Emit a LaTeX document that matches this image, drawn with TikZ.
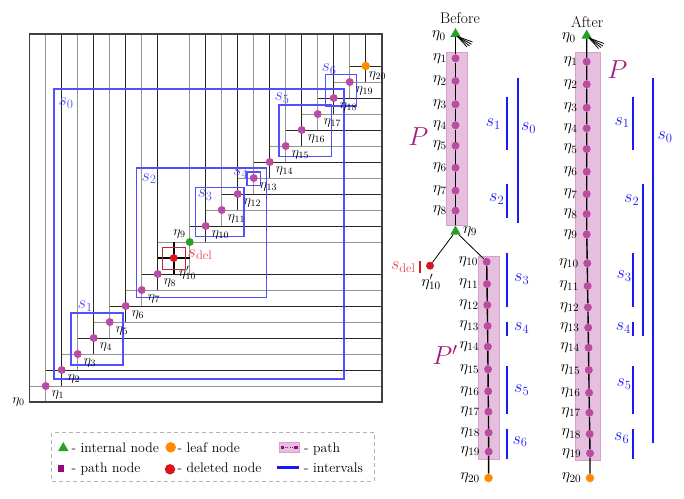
\IfFileExists{fix-cm.sty}{\RequirePackage{fix-cm}}{}
\documentclass[tikz,border=0pt]{standalone}
\usetikzlibrary{calc,shapes.geometric}
\definecolor{pdot}{RGB}{184,76,160}
\definecolor{pathfill}{RGB}{230,190,222}
\definecolor{pathdraw}{RGB}{215,160,205}
\definecolor{plabel}{RGB}{160,30,130}
\definecolor{psq}{RGB}{150,10,120}
\definecolor{ggreen}{RGB}{40,160,40}
\definecolor{lorange}{RGB}{255,140,0}
\definecolor{dred}{RGB}{220,20,30}
\definecolor{boxred}{RGB}{205,35,45}
\definecolor{sdelred}{RGB}{232,70,80}
\definecolor{iblue}{RGB}{25,25,245}
\definecolor{bblue}{RGB}{80,80,255}
\begin{document}
\begin{tikzpicture}[x=1pt,y=-1pt,
  pd/.style={circle,fill=pdot,inner sep=0pt,minimum size=8pt},
  gd/.style={circle,fill=ggreen,inner sep=0pt,minimum size=8pt},
  od/.style={circle,fill=lorange,inner sep=0pt,minimum size=8.5pt},
  rd/.style={circle,fill=dred,inner sep=0pt,minimum size=8pt},
  gtri/.style={regular polygon,regular polygon sides=3,fill=ggreen,inner sep=0pt,minimum size=12pt},
  lgray/.style={draw=black!42,line width=0.8pt},
  lblack/.style={draw=black!85,line width=0.8pt},
  ibox/.style={draw=bblue,line width=1.2pt},
  slab/.style={text=iblue,font=\fontsize{18}{20}\selectfont,inner sep=0pt},
  blab/.style={text=bblue,font=\fontsize{18}{20}\selectfont,inner sep=0pt},
  elab/.style={font=\fontsize{13.8}{15}\selectfont,inner sep=0pt},
  tlab/.style={font=\fontsize{16}{18}\selectfont,inner sep=0pt,anchor=east},
  ttl/.style={font=\fontsize{15.5}{17}\selectfont,inner sep=0pt},
  tline/.style={draw=black,line width=1.4pt},
  fanl/.style={draw=black,line width=0.8pt},
  ival/.style={draw=iblue,line width=2pt},
  pathrect/.style={fill=pathfill,draw=pathdraw,line width=0.8pt},
  plab/.style={text=plabel,font=\fontsize{26}{28}\selectfont,inner sep=0pt},
]
\useasboundingbox (0,0) rectangle (684,498);

% ---------------- left panel ----------------
\foreach \p in {0,...,21} \coordinate (c\p) at ({29.7+16*\p},{402-16*\p});
\coordinate (TR) at (382,34);
\foreach \p/\q/\col in {1/0/lgray,2/1/lblack,3/2/lgray,4/3/lblack,5/4/lgray,6/5/lblack,7/6/lgray,8/7/lblack,
  10/8/lgray,11/10/lblack,12/11/lgray,13/12/lblack,14/13/lgray,15/14/lblack,16/15/lgray,17/16/lblack,
  18/17/lgray,19/18/lblack,20/19/lgray,21/20/lblack}{
  \draw[\col] (c\p |- c\q) -- (c\p |- TR);
  \draw[\col] (c\q |- c\p) -- (TR |- c\p);
}
\draw[draw=black!75,line width=1.2pt] (c0) rectangle (TR);
% deleted node cross
\draw[draw=black,line width=2pt] (c8 |- c9) -- (c10 |- c9);
\draw[draw=black,line width=2pt] (c9 |- c10) -- (c9 |- c8);
% interval boxes
\draw[ibox] (54,89) rectangle (344,379);
\draw[ibox] (71,313) rectangle (123,365);
\draw[ibox] (136.3,168) rectangle (266.7,297.7);
\draw[ibox] (195.7,187.3) rectangle (244,236.7);
\draw[ibox] (247,172) rectangle (260.3,185.3);
\draw[ibox] (279,105) rectangle (331.7,156.7);
\draw[ibox] (325.3,74.3) rectangle (356.7,106);
\draw[draw=boxred,line width=1pt] (162.3,247) rectangle (185,269.3);
\node[blab] (ls0) at (66,103.3) {$s_0$};
\node[blab] (ls1) at (85.3,306) {$s_1$};
\node[blab] (ls2) at (149,178.7) {$s_2$};
\node[blab] (ls3) at (205,195) {$s_3$};
\node[blab] (ls4) at (240.5,173.3) {$s_4$};
\node[blab] (ls5) at (282,98.3) {$s_5$};
\node[blab] (ls6) at (329,69) {$s_6$};
\node[text=sdelred,font=\fontsize{18}{20}\selectfont,inner sep=0pt] (lsdel) at (200,254.5) {$s_{\mathrm{del}}$};
% dots
\foreach \n/\p in {1/1,2/2,3/3,4/4,5/5,6/6,7/7,8/8,10/11,11/12,12/13,13/14,14/15,15/16,16/17,17/18,18/19,19/20}{
  \node[pd] (L\n) at (c\p) {};
  \node[elab,anchor=west] (Ll\n) at ($(c\p)+(6,8.5)$) {$\eta_{\n}$};
}
\node[gd] (L9) at (c10) {};
\node[elab,anchor=east] (Ll9) at ($(c10)+(-4,-8)$) {$\eta_9$};
\node[od] (L20) at (c21) {};
\node[elab,anchor=west] (Ll20) at ($(c21)+(3,10)$) {$\eta_{20}$};
\node[rd] (Ld) at (c9) {};
\node[elab,anchor=west] (Lld) at ($(c9)+(5,15)$) {$\eta'_{10}$};
\node[elab,anchor=east] (Ll0) at ($(c0)+(-5,0)$) {$\eta_0$};

% ---------------- Before tree ----------------
\node[ttl] (tb) at (460,18) {Before};
\fill[pathrect] (446,52.3) rectangle (467.7,225.7);
\fill[pathrect] (478.7,256.7) rectangle (499.3,459.3);
\node[gtri] (B0) at (455.5,34) {};
\node[tlab] (Bl0) at (446,36) {$\eta_0$};
\foreach \n/\y in {1/58.3,2/81,3/104.3,4/125.3,5/145.7,6/167.7,7/190.7,8/210.7}{
  \node[pd] (B\n) at (455.5,\y) {};
  \node[tlab] (Bl\n) at ([xshift=-8.5pt]B\n.center) {$\eta_{\n}$};
}
\node[gtri] (B9) at (455.5,231.5) {};
\node[font=\fontsize{16}{18}\selectfont,inner sep=0pt,anchor=west] (Bl9) at (463,231.5) {$\eta_9$};
\foreach \n/\x/\y in {10/486.7/261.7,11/487/284,12/487.3/305,13/487.6/326,14/487.8/346.7,15/488/369.3,16/488.2/391.3,17/488.4/411.7,18/488.6/432.7,19/488.7/451.7}{
  \node[pd] (B\n) at (\x,\y) {};
  \node[tlab] (Bl\n) at ([xshift=-8.5pt]B\n.center) {$\eta_{\n}$};
}
\node[od] (B20) at (488.5,478) {};
\node[tlab] (Bl20) at ([xshift=-8.5pt]B20.center) {$\eta_{20}$};
\node[rd] (Bd) at (430,265.7) {};
\node[font=\fontsize{16}{18}\selectfont,inner sep=0pt] (Bld) at (431,282) {$\eta'_{10}$};
\node[text=sdelred,font=\fontsize{18}{20}\selectfont,inner sep=0pt] (Bsdel) at (403.3,267.3) {$s_{\mathrm{del}}$};
\draw[draw=dred,line width=2.5pt] (420,260.7) -- (420,273.3);
\draw[tline] (B0) -- (B1) -- (B2) -- (B3) -- (B4) -- (B5) -- (B6) -- (B7) -- (B8) -- (B9);
\draw[fanl] (B9) -- (Bd);
\draw[fanl] (B9) -- (B10);
\draw[tline] (B10) -- (B11) -- (B12) -- (B13) -- (B14) -- (B15) -- (B16) -- (B17) -- (B18) -- (B19) -- (B20);
\coordinate (bf0) at (457.5,36.5);
\coordinate (bf1) at (467,47);
\coordinate (bf2) at (469.5,46);
\coordinate (bf3) at (471.5,44.3);
\coordinate (bf4) at (472.5,42);
\foreach \k in {1,2,3,4} \draw[fanl] (bf0) -- (bf\k);
\node[plab] (BP) at (418.3,136.7) {$P$};
\node[plab] (BPp) at (445,355) {$P'$};
% intervals before
\draw[ival] (507.3,96.7) -- (507.3,150);   \node[slab] (bs1) at (493.3,124) {$s_1$};
\draw[ival] (517.7,78.3) -- (517.7,222.7); \node[slab] (bs0) at (528.5,128) {$s_0$};
\draw[ival] (507.3,184.3) -- (507.3,218.3); \node[slab] (bs2) at (496.7,199.3) {$s_2$};
\draw[ival] (507.3,253.3) -- (507.3,306.7); \node[slab] (bs3) at (521.7,279.3) {$s_3$};
\draw[ival] (507.3,321.7) -- (507.3,336);   \node[slab] (bs4) at (521.7,328.3) {$s_4$};
\draw[ival] (507.3,366) -- (507.3,414);     \node[slab] (bs5) at (521.7,390) {$s_5$};
\draw[ival] (507.3,429.3) -- (507.3,459.3); \node[slab] (bs6) at (520,441.7) {$s_6$};

% ---------------- After tree ----------------
\node[ttl] (ta) at (587.3,21.7) {After};
\fill[pathrect] (575.7,52.3) rectangle (600.7,460);
\node[gtri] (A0) at (586.7,35.5) {};
\node[tlab] (Al0) at (576,38) {$\eta_0$};
\foreach \n/\y in {1/61.7,2/84.3,3/107.7,4/128.3,5/149,6/171.7,7/194,8/214,9/234.3}{
  \node[pd] (A\n) at (586.7,\y) {};
  \node[tlab] (Al\n) at ([xshift=-9pt]A\n.center) {$\eta_{\n}$};
}
\foreach \n/\x/\y in {10/587.3/263.3,11/587.6/286,12/587.9/307.3,13/588.2/327.7,14/588.5/347.7,15/588.8/370,16/589.1/392.7,17/589.4/412.7,18/589.7/434,19/590/453.3}{
  \node[pd] (A\n) at (\x,\y) {};
  \node[tlab] (Al\n) at ([xshift=-8.5pt]A\n.center) {$\eta_{\n}$};
}
\node[od] (A20) at (590,478) {};
\node[tlab] (Al20) at ([xshift=-8.5pt]A20.center) {$\eta_{20}$};
\draw[tline] (A0) -- (A1) -- (A2) -- (A3) -- (A4) -- (A5) -- (A6) -- (A7) -- (A8) -- (A9) -- (A10) -- (A11) -- (A12) -- (A13) -- (A14) -- (A15) -- (A16) -- (A17) -- (A18) -- (A19) -- (A20);
\coordinate (af0) at (589,38);
\coordinate (af1) at (598.5,48.5);
\coordinate (af2) at (601,47.5);
\coordinate (af3) at (603,46);
\coordinate (af4) at (604,43.5);
\foreach \k in {1,2,3,4} \draw[fanl] (af0) -- (af\k);
\node[plab] (AP) at (617.3,70) {$P$};
% intervals after
\draw[ival] (632.7,96.7) -- (632.7,150);   \node[slab] (as1) at (622,122.7) {$s_1$};
\draw[ival] (653.3,78.3) -- (653.3,442.7); \node[slab] (as0) at (665,137.3) {$s_0$};
\draw[ival] (642.7,184.3) -- (642.7,336);  \node[slab] (as2) at (631.7,200) {$s_2$};
\draw[ival] (632.7,253.3) -- (632.7,306.7); \node[slab] (as3) at (624,276) {$s_3$};
\draw[ival] (632.7,321.7) -- (632.7,336);   \node[slab] (as4) at (623.3,328.3) {$s_4$};
\draw[ival] (632.7,366) -- (632.7,414);     \node[slab] (as5) at (624,384) {$s_5$};
\draw[ival] (632.7,429.3) -- (632.7,459.3); \node[slab] (as6) at (621.7,438.3) {$s_6$};

% ---------------- legend ----------------
\draw[draw=black!30,line width=0.8pt,dash pattern=on 4pt off 3pt] (51.7,432.7) rectangle (374.3,481);
\node[gtri] (lg1) at (63.3,448) {};
\node[elab,anchor=base west] (lt1) at (71.5,452.3) {- internal node};
\node[od,minimum size=10.5pt] (lg2) at (170.7,447.3) {};
\node[elab,anchor=base west] (lt2) at (177.5,452.3) {- leaf node};
\fill[pathrect] (279,442.7) rectangle (299.3,452.3);
\node[fill=psq,inner sep=0pt,minimum size=3.5pt] (lq1) at (282.7,447.5) {};
\node[fill=psq,inner sep=0pt,minimum size=3.5pt] (lq2) at (296,447.5) {};
\draw[draw=psq,line width=0.6pt,dotted] (lq1) -- (lq2);
\node[elab,anchor=base west] (lt3) at (304,452.3) {- path};
\node[fill=psq,inner sep=0pt,minimum size=6.5pt] (lg4) at (61,468.3) {};
\node[elab,anchor=base west] (lt4) at (71.5,472.7) {- path node};
\node[rd,minimum size=10.5pt] (lg5) at (170,469.3) {};
\node[elab,anchor=base west] (lt5) at (177.5,472.7) {- deleted node};
\coordinate (lb1) at (277.3,467.3);
\coordinate (lb2) at (299.3,467.3);
\draw[draw=iblue,line width=2.5pt] (lb1) -- (lb2);
\node[elab,anchor=base west] (lt6) at (304,472.7) {- intervals};
\end{tikzpicture}
\end{document}
